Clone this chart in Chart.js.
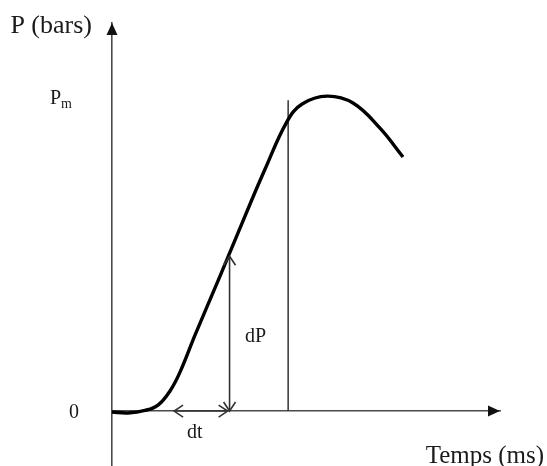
<!DOCTYPE html>
<html><head><meta charset="utf-8">
<script src="https://cdn.jsdelivr.net/npm/chart.js@4.4.1/dist/chart.umd.min.js"></script>
<style>html,body{margin:0;padding:0;background:#fff}</style>
</head><body>
<canvas id="c" width="547" height="466"></canvas>
<script>
// ---- data (time in ms, pressure in bars; Pm = 10) ----
const timeMs      = [0, 4.12, 8.51, 11.86, 14.95, 17.53, 21.39, 27.84, 34.28, 39.43, 45.10, 49.0, 55.41, 62.11, 69.07, 75.0];
const pressureBars= [-0.03, -0.06, 0.02, 0.19, 0.64, 1.24, 2.42, 4.30, 6.21, 7.70, 9.22, 9.78, 10.03, 9.81, 9.01, 8.09];
const tickValues  = [0, 10];
const tickLabels  = ['0', 'P|m'];
const markerLineX = [45.4, 45.4];
const markerLineY = [0, 9.9];
const dPArrowX    = [30.3, 30.3];
const dPArrowY    = [0, 4.93];
const dtArrowX    = [16.0, 29.8];
const dtArrowY    = [0, 0];
const axisTitles  = ['Temps (ms)', 'P (bars)'];
const noteTexts   = ['dt', 'dP'];

const toPts = (xs, ys) => xs.map((x, i) => ({x, y: ys[i]}));
const AXIS = '#4a4a4a';
const INK = '#1a1a1a';
const SERIF = '"Liberation Serif", "Times New Roman", serif';

const decor = {
  id: 'decor',
  afterDatasetsDraw(chart) {
    const {ctx, scales: {x, y}} = chart;
    const x0 = x.getPixelForValue(0), y0 = y.getPixelForValue(0);
    const xEnd = x.right, yTop = y.top;
    ctx.save();
    // axis arrowheads
    ctx.fillStyle = '#111';
    ctx.beginPath();
    ctx.moveTo(x0, yTop); ctx.lineTo(x0 - 5.5, yTop + 12); ctx.lineTo(x0 + 5.5, yTop + 12); ctx.closePath(); ctx.fill();
    ctx.beginPath();
    ctx.moveTo(xEnd, y0); ctx.lineTo(xEnd - 12, y0 - 5.5); ctx.lineTo(xEnd - 12, y0 + 5.5); ctx.closePath(); ctx.fill();
    // open chevrons
    ctx.strokeStyle = '#333'; ctx.lineWidth = 1.6; ctx.lineJoin = 'miter';
    const chev = (px, py, dx, dy) => {
      const s = 9, w = 6;
      const nx = -dy, ny = dx;
      ctx.beginPath();
      ctx.moveTo(px - dx * s + nx * w, py - dy * s + ny * w);
      ctx.lineTo(px, py);
      ctx.lineTo(px - dx * s - nx * w, py - dy * s - ny * w);
      ctx.stroke();
    };
    const dpx = x.getPixelForValue(dPArrowX[0]);
    chev(dpx, y.getPixelForValue(dPArrowY[1]), 0, -1);
    chev(dpx, y.getPixelForValue(dPArrowY[0]), 0, 1);
    chev(x.getPixelForValue(dtArrowX[0]), y0, -1, 0);
    chev(x.getPixelForValue(dtArrowX[1]), y0, 1, 0);
    // texts
    ctx.fillStyle = INK; ctx.textBaseline = 'alphabetic';
    ctx.font = '26px ' + SERIF; ctx.textAlign = 'right';
    ctx.fillText(axisTitles[1], x0 - 20, yTop + 10);
    ctx.font = '25px ' + SERIF;
    ctx.fillText(axisTitles[0], xEnd + 44, y0 + 52);
    // y ticks
    tickValues.forEach((v, i) => {
      const py = y.getPixelForValue(v);
      const [main, sub] = tickLabels[i].split('|');
      ctx.textAlign = 'left';
      ctx.font = '20px ' + SERIF;
      const mw = ctx.measureText(main).width;
      const left = sub ? x0 - 62 : x0 - 43;
      ctx.fillText(main, left, py + 7);
      if (sub) { ctx.font = '14px ' + SERIF; ctx.fillText(sub, left + mw, py + 11); }
    });
    // notes
    ctx.font = '20px ' + SERIF; ctx.textAlign = 'left';
    ctx.fillText(noteTexts[0], x.getPixelForValue(19.3), y0 + 27);
    ctx.fillText(noteTexts[1], x.getPixelForValue(34.3), y.getPixelForValue(2.2));
    ctx.restore();
  }
};

new Chart(document.getElementById('c'), {
  type: 'line',
  data: {
    datasets: [
      { data: toPts(timeMs, pressureBars), borderColor: '#000', borderWidth: 3.4, pointRadius: 0, tension: 0.4, cubicInterpolationMode: 'default', fill: false, clip: false },
      { data: toPts(markerLineX, markerLineY), borderColor: '#333', borderWidth: 1.5, pointRadius: 0, fill: false },
      { data: toPts(dPArrowX, dPArrowY), borderColor: '#333', borderWidth: 1.6, pointRadius: 0, fill: false },
      { data: toPts(dtArrowX, dtArrowY), borderColor: '#333', borderWidth: 1.6, pointRadius: 0, fill: false }
    ]
  },
  options: {
    responsive: false,
    animation: false,
    events: [],
    layout: { padding: { left: 112, right: 47, top: 23, bottom: 0 } },
    plugins: { legend: { display: false }, tooltip: { enabled: false }, title: { display: false } },
    scales: {
      x: { type: 'linear', min: 0, max: 100, position: { y: 0 },
           grid: { display: false }, ticks: { display: false },
           border: { display: true, color: AXIS, width: 1.6 } },
      y: { type: 'linear', min: -1.75, max: 12.36, position: { x: 0 },
           grid: { display: false }, ticks: { display: false },
           border: { display: true, color: AXIS, width: 1.6 } }
    }
  },
  plugins: [decor]
});
</script>
</body></html>
